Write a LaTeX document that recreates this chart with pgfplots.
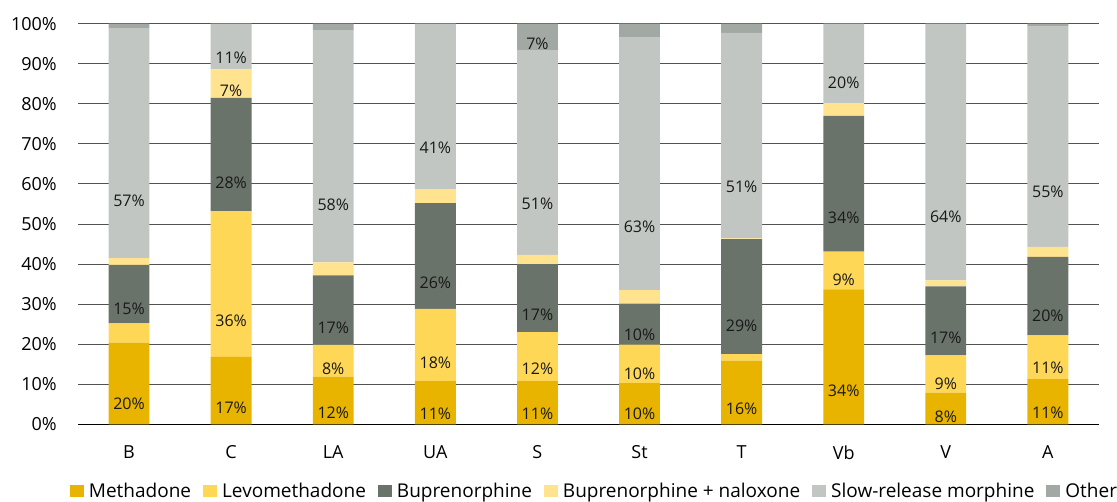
\documentclass[border=0pt]{standalone}
\usepackage{pgfplots}
\usepackage{pgfplotstable}
\usepackage{fontspec}
\setmainfont{Open Sans}
\pgfplotsset{compat=1.18}
\definecolor{cMeth}{RGB}{232,180,0}
\definecolor{cLevo}{RGB}{255,215,87}
\definecolor{cBup}{RGB}{105,115,106}
\definecolor{cBN}{RGB}{255,227,143}
\definecolor{cSRM}{RGB}{193,198,195}
\definecolor{cOth}{RGB}{162,169,164}
\pgfplotstableread{
x meth levo bup bn srm oth
0 20.4 4.8 14.6 1.7 57.4 1.1
1 16.8 36.4 28.3 7.1 11.4 0.0
2 11.9 7.9 17.4 3.2 58.0 1.6
3 10.8 18.0 26.4 3.5 41.3 0.0
4 10.8 12.2 17.0 2.3 51.1 6.6
5 10.3 9.6 10.2 3.4 63.0 3.5
6 15.9 1.6 28.7 0.2 51.3 2.3
7 33.7 9.4 33.9 3.2 19.8 0.0
8 7.9 9.3 17.2 1.5 64.1 0.0
9 11.3 10.9 19.6 2.5 55.0 0.7
}\datatable
\pgfplotsset{sq legend/.style={legend image code/.code={\fill[##1] (0bp,-5.5bp) rectangle (14bp,6.5bp);}}}
\begin{document}
\begin{tikzpicture}
\begin{axis}[
  scale only axis, width=1021bp, height=400.6bp,
  ybar stacked, bar width=0.4,
  xmin=-0.5, xmax=9.5, ymin=0, ymax=100,
  xtick={0,...,9}, xticklabels={B,C,LA,UA,S,St,T,Vb,V,A},
  ytick={0,10,...,100},
  yticklabel={\pgfmathprintnumber{\tick}\%},
  /pgf/number format/assume math mode=true,
  axis x line*=bottom, axis y line*=left,
  y axis line style={draw=none},
  x axis line style={line width=1.6bp, black},
  major tick length=0pt,
  ymajorgrids, major grid style={draw=black!68, line width=0.9bp},
  tick label style={font=\fontsize{18bp}{21bp}\selectfont, inner sep=0pt},
  yticklabel style={xshift=-21bp},
  xticklabel style={yshift=-21bp},
  visualization depends on=rawy \as \rawy,
  nodes near coords={\ifdim\rawy pt<5pt\relax\else\pgfmathprintnumber[fixed,precision=0]{\rawy}\%\fi},
  every node near coord/.append style={anchor=center, yshift=-\rawy*1.0015bp, font=\fontsize{16bp}{19bp}\selectfont, text=black!90, inner sep=0pt},
  legend columns=-1,
  legend style={draw=none, fill=none, at={(0.5,0)}, anchor=north, yshift=-59bp, xshift=5bp,
    font=\fontsize{19bp}{22bp}\selectfont, inner sep=0pt, nodes={inner sep=0pt},
    /tikz/every odd column/.append style={column sep=5bp},
    /tikz/every even column/.append style={column sep=12bp}},
]
\addplot[fill=cMeth, draw=none, sq legend] table[x=x, y=meth] {\datatable};
\addlegendentry{Methadone}
\addplot[fill=cLevo, draw=none, sq legend] table[x=x, y=levo] {\datatable};
\addlegendentry{Levomethadone}
\addplot[fill=cBup, draw=none, sq legend] table[x=x, y=bup] {\datatable};
\addlegendentry{Buprenorphine}
\addplot[fill=cBN, draw=none, sq legend] table[x=x, y=bn] {\datatable};
\addlegendentry{Buprenorphine + naloxone}
\addplot[fill=cSRM, draw=none, sq legend] table[x=x, y=srm] {\datatable};
\addlegendentry{Slow-release morphine}
\addplot[fill=cOth, draw=none, sq legend] table[x=x, y=oth] {\datatable};
\addlegendentry{Other}
\end{axis}
\pgfresetboundingbox
\path[use as bounding box] (-78bp,-77.7bp) rectangle (1039bp,424.3bp);
\end{tikzpicture}
\end{document}
